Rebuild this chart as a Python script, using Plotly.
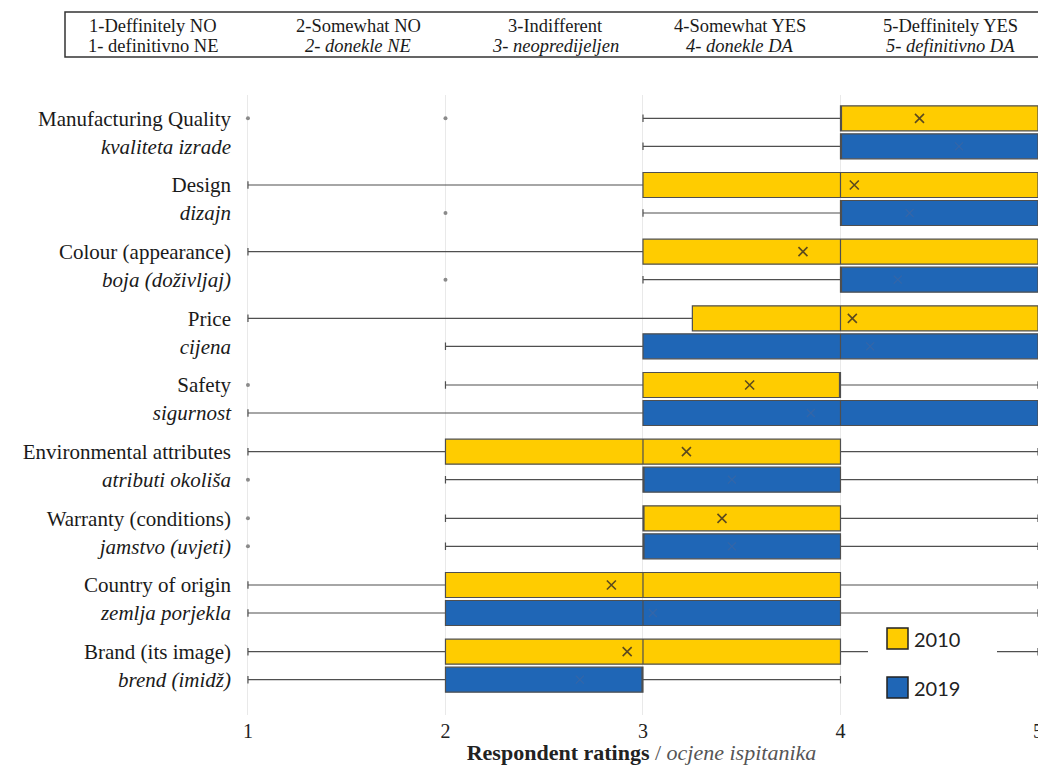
import plotly.graph_objects as go

# ---------------- data ----------------
attributes_en = ["Manufacturing Quality", "Design", "Colour (appearance)", "Price", "Safety",
                 "Environmental attributes", "Warranty (conditions)", "Country of origin",
                 "Brand (its image)"]
attributes_hr = ["kvaliteta izrade", "dizajn", "boja (doživljaj)", "cijena", "sigurnost",
                 "atributi okoliša", "jamstvo (uvjeti)", "zemlja porjekla", "brend (imidž)"]

# 2010
lo_2010 = [3, 1, 1, 1, 2, 1, 2, 1, 1]
q1_2010 = [4, 3, 3, 3.25, 3, 2, 3, 2, 2]
med_2010 = [4, 4, 4, 4, 4, 3, 3, 3, 3]
q3_2010 = [5, 5, 5, 5, 4, 4, 4, 4, 4]
hi_2010 = [5, 5, 5, 5, 5, 5, 5, 5, 5]
mean_2010 = [4.40, 4.07, 3.81, 4.06, 3.54, 3.22, 3.40, 2.84, 2.92]
out_2010_row = [0, 0, 4, 6]
out_2010_val = [1, 2, 1, 1]

# 2019
lo_2019 = [3, 3, 3, 2, 1, 2, 2, 1, 1]
q1_2019 = [4, 4, 4, 3, 3, 3, 3, 2, 2]
med_2019 = [4, 4, 4, 4, 4, 3, 3, 3, 3]
q3_2019 = [5, 5, 5, 5, 5, 4, 4, 4, 3]
hi_2019 = [5, 5, 5, 5, 5, 5, 5, 5, 4]
mean_2019 = [4.60, 4.35, 4.29, 4.15, 3.85, 3.45, 3.45, 3.05, 2.68]
out_2019_row = [1, 2, 5, 6]
out_2019_val = [2, 2, 1, 1]

x_ticks = [1, 2, 3, 4, 5]

header_en = ["1-Deffinitely NO", "2-Somewhat NO", "3-Indifferent", "4-Somewhat YES", "5-Deffinitely YES"]
header_hr = ["1- definitivno NE", "2- donekle NE", "3- neopredijeljen", "4- donekle DA", "5- definitivno DA"]
years = ["2010", "2019"]

# ---------------- layout helpers ----------------
W, H = 1038, 765
ML, MR, MT, MB = 245, 0, 95, 50
PW, PH = W - ML - MR, H - MT - MB
OFF = 0.42  # offset of 2019 box below 2010 box (in row units)

def px_x(px):
    return (px - ML) / PW

def px_y(py):
    return (H - MB - py) / PH

YELLOW = "#FFCC00"
BLUE = "#1F66B6"
SERIF = "Liberation Serif"

n = len(attributes_en)
pos_2010 = [i for i in range(n)]
pos_2019 = [i + OFF for i in range(n)]

fig = go.Figure()

box_common = dict(orientation="h", boxpoints=False, width=0.375, whiskerwidth=0.3,
                  line=dict(color="#4f4f4f", width=1.2), showlegend=False, hoverinfo="skip")

fig.add_trace(go.Box(y=pos_2010, q1=q1_2010, median=med_2010, q3=q3_2010,
                     lowerfence=lo_2010, upperfence=hi_2010, fillcolor=YELLOW,
                     name="2010", **box_common))
fig.add_trace(go.Box(y=pos_2019, q1=q1_2019, median=med_2019, q3=q3_2019,
                     lowerfence=lo_2019, upperfence=hi_2019, fillcolor=BLUE,
                     name="2019", **box_common))

# means
fig.add_trace(go.Scatter(x=mean_2010, y=pos_2010, mode="markers", showlegend=False, hoverinfo="skip",
                         marker=dict(symbol="x-thin", size=9, line=dict(color="#5c4a1e", width=1.6))))
fig.add_trace(go.Scatter(x=mean_2019, y=pos_2019, mode="markers", showlegend=False, hoverinfo="skip",
                         marker=dict(symbol="x-thin", size=8, line=dict(color="#3566a8", width=1.2))))

# outliers
fig.add_trace(go.Scatter(x=out_2010_val, y=[pos_2010[r] for r in out_2010_row], mode="markers",
                         showlegend=False, hoverinfo="skip",
                         marker=dict(symbol="circle", size=4, color="#8a8a8a")))
fig.add_trace(go.Scatter(x=out_2019_val, y=[pos_2019[r] for r in out_2019_row], mode="markers",
                         showlegend=False, hoverinfo="skip",
                         marker=dict(symbol="circle", size=4, color="#8a8a8a")))

tickvals, ticktext = [], []
for i in range(n):
    tickvals += [pos_2010[i], pos_2019[i]]
    ticktext += [attributes_en[i], "<i>" + attributes_hr[i] + "</i>"]

shapes = []
annotations = []

# header box
shapes.append(dict(type="rect", xref="paper", yref="paper", x0=px_x(65), x1=px_x(1045),
                   y0=px_y(57), y1=px_y(12), line=dict(color="#333333", width=1.5),
                   fillcolor="rgba(0,0,0,0)", layer="above"))
header_cx = [153, 358, 555, 740, 950]
for k in range(len(header_en)):
    t2 = header_hr[k] if k == 0 else "<i>" + header_hr[k] + "</i>"
    annotations.append(dict(x=px_x(header_cx[k]), y=px_y(25.5), xref="paper", yref="paper",
                            text=header_en[k], showarrow=False, xanchor="center", yanchor="middle",
                            font=dict(family=SERIF, size=18.5, color="#1a1a1a")))
    annotations.append(dict(x=px_x(header_cx[k]), y=px_y(45.5), xref="paper", yref="paper",
                            text=t2, showarrow=False, xanchor="center", yanchor="middle",
                            font=dict(family=SERIF, size=18.5, color="#1a1a1a")))

# legend (white panel, swatches, labels)
shapes.append(dict(type="rect", xref="paper", yref="paper", x0=px_x(868), x1=px_x(997),
                   y0=px_y(706), y1=px_y(620), line=dict(width=0), fillcolor="white", layer="above"))
legend_cy = [638.5, 687.5]
legend_col = [YELLOW, BLUE]
for k in range(2):
    shapes.append(dict(type="rect", xref="paper", yref="paper", x0=px_x(887), x1=px_x(908),
                       y0=px_y(legend_cy[k] + 10.5), y1=px_y(legend_cy[k] - 10.5),
                       line=dict(color="#222222", width=1.5), fillcolor=legend_col[k], layer="above"))
    annotations.append(dict(x=px_x(912), y=px_y(legend_cy[k]), xref="paper", yref="paper",
                            text=years[k], showarrow=False, xanchor="left", yanchor="middle",
                            font=dict(family="Lato", size=20, color="#222222")))

fig.update_layout(
    width=W, height=H,
    margin=dict(l=ML, r=MR, t=MT, b=MB),
    plot_bgcolor="white", paper_bgcolor="white",
    boxmode="overlay",
    shapes=shapes, annotations=annotations,
    xaxis=dict(range=[0.985, 5.0], tickvals=x_ticks, ticktext=[str(v) for v in x_ticks],
               showgrid=True, gridcolor="#e9e9e9", gridwidth=1, zeroline=False, showline=False,
               ticks="", ticklabelstandoff=2, ticklabeloverflow="allow", automargin=False,
               tickfont=dict(family=SERIF, size=20, color="#222222"),
               title=dict(text="<b>Respondent ratings</b><span style='color:#555555'> / <i>ocjene ispitanika</i></span>",
                          font=dict(family=SERIF, size=22, color="#222222"), standoff=2)),
    yaxis=dict(range=[8.95, -0.35], tickvals=tickvals, ticktext=ticktext, showgrid=False,
               zeroline=False, showline=False, ticks="", ticklabelstandoff=13, automargin=False,
               tickfont=dict(family=SERIF, size=21, color="#1a1a1a")),
)

fig.write_html("out.html")
